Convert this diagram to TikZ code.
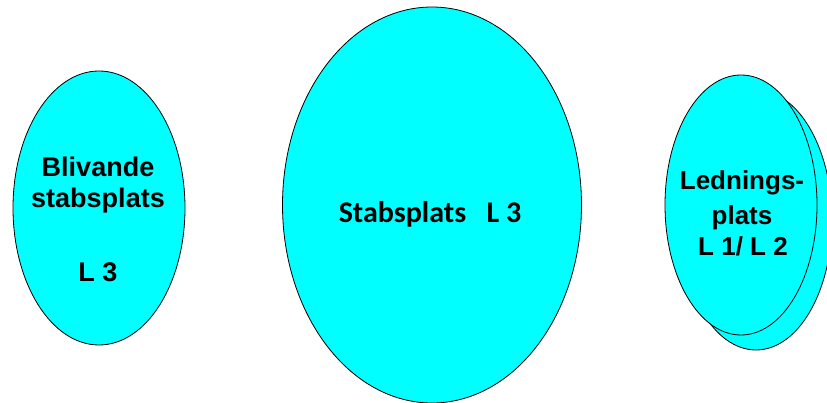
\documentclass[tikz,border=0pt]{standalone}
\usepackage{fontspec}
\setmainfont{Liberation Sans}
\newfontfamily\calib{Carlito}
\usetikzlibrary{shapes.geometric}
\definecolor{aqua}{RGB}{0,255,255}
\begin{document}
\begin{tikzpicture}[x=1pt,y=-1pt,
  blob/.style={ellipse,draw=black,line width=0.8pt,fill=aqua,inner sep=0pt},
  lbl/.style={font=\fontsize{27}{30}\selectfont\bfseries,text=black,inner sep=0pt,align=center},
  rlbl/.style={lbl,font=\fontsize{26}{30}\selectfont\bfseries}]
\useasboundingbox (0,0) rectangle (827,403);
\node[blob,minimum width=172pt,minimum height=274pt] (left) at (99,208) {};
\node[blob,minimum width=299pt,minimum height=396pt] (mid) at (432,205) {};
\node[blob,minimum width=152pt,minimum height=260pt] (back) at (756,220) {};
\node[blob,minimum width=152pt,minimum height=260pt] (front) at (741,205) {};
\node[lbl] (t1) at (98,167) {Blivande};
\node[lbl] (t2) at (98,201) {stabsplats};
\node[lbl] (t3) at (98,272) {L 3};
\node[font=\calib\fontsize{30}{32}\selectfont\bfseries,inner sep=0pt] (t4) at (430,214) {Stabsplats\ \ \ L 3};
\node[rlbl] (t5) at (742,183) {Lednings-};
\node[rlbl] (t6) at (742,218) {plats};
\node[rlbl] (t7) at (743,246) {L 1/ L 2};
\end{tikzpicture}
\end{document}
